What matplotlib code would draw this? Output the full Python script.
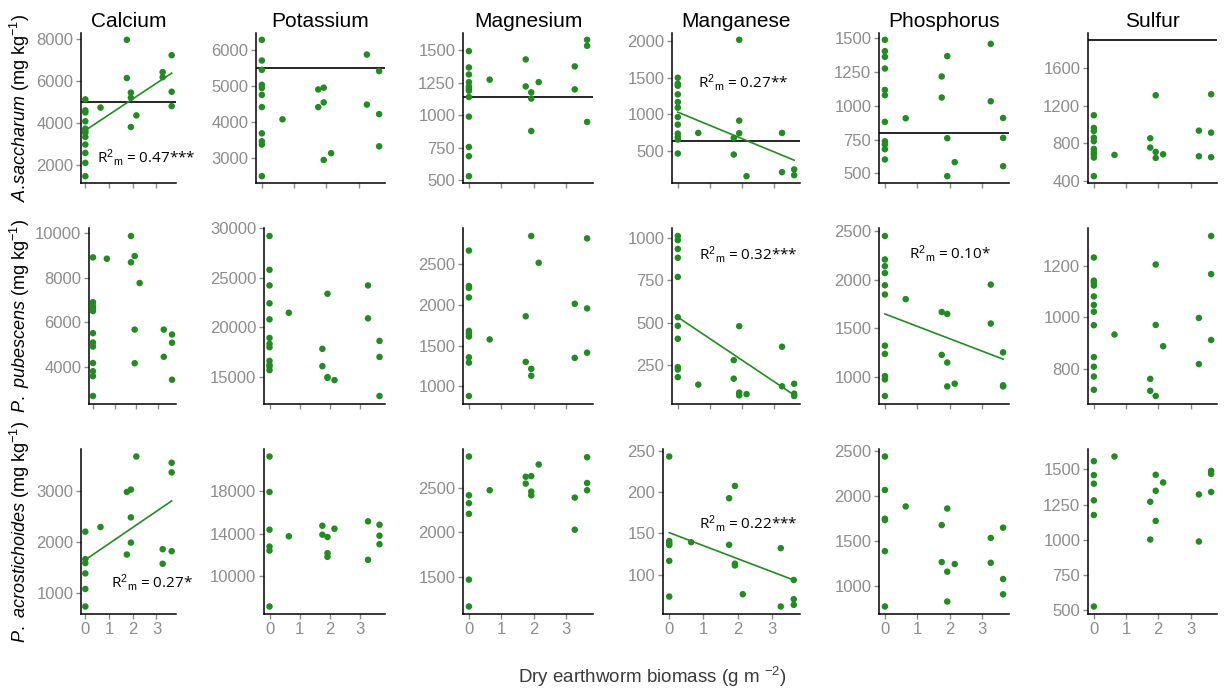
import numpy as np
import matplotlib
matplotlib.use('agg')
import matplotlib.pyplot as plt

plt.rcParams['font.family'] = ['Liberation Sans', 'DejaVu Sans']
plt.rcParams['mathtext.fontset'] = 'custom'
plt.rcParams['mathtext.rm'] = 'Liberation Sans'
plt.rcParams['mathtext.it'] = 'Liberation Sans:italic'

nutrients = ['Calcium', 'Potassium', 'Magnesium', 'Manganese', 'Phosphorus', 'Sulfur']
species_labels = [r'$\it{A.\!saccharum}$ (mg kg$^{-1}$)',
                  r'$\it{P.\ pubescens}$ (mg kg$^{-1}$)',
                  r'$\it{P.\ acrostichoides}$ (mg kg$^{-1}$)']

# Earthworm biomass levels (g m-2); each panel lists its values per level.
biomass = [0, 0.64, 1.75, 1.92, 2.15, 3.26, 3.64]

# A. saccharum
ca_acsa = [[5130, 4610, 4510, 4090, 3740, 3630, 3540, 3350, 2990, 2590, 2120, 1490],
           [4740], [7950, 6140], [5450, 5210, 3820], [4370], [6420, 6180], [7220, 5490, 4810]]
k_acsa = [[6290, 5715, 5455, 5040, 4950, 4760, 4420, 3690, 3470, 3380, 2500],
          [4080], [4910, 4420], [4960, 4550, 2950], [3140], [5880, 4490], [5420, 4225, 3330]]
mg_acsa = [[1495, 1369, 1315, 1256, 1223, 1208, 1190, 1141, 990, 756, 685, 531],
           [1275], [1431, 1223], [1177, 1129, 879], [1256], [1377, 1200], [1582, 1536, 949]]
mn_acsa = [[1503, 1421, 1393, 1275, 1170, 1093, 964, 860, 737, 691, 655, 464],
           [746], [677, 450], [2023, 915, 742], [153], [746, 208], [245, 167]]
p_acsa = [[1490, 1406, 1364, 1277, 1118, 1079, 881, 737, 713, 678, 602],
          [908], [1218, 1062], [1369, 760, 478], [582], [1460, 1034], [910, 762, 552]]
s_acsa = [[1098, 963, 931, 860, 822, 740, 708, 683, 648, 450],
          [676], [853, 754], [1310, 708, 644], [683], [934, 662], [1321, 913, 652]]

# P. pubescens
ca_popu = [[8920, 6910, 6740, 6620, 6510, 5520, 5100, 4920, 4180, 3810, 3590, 2700],
           [8860], [9880, 8700], [8980, 5680, 4170], [7770], [5680, 4460], [5460, 5090, 3430]]
k_popu = [[29200, 25800, 24230, 22430, 20820, 18950, 18350, 18020, 16640, 16240, 16080, 15710],
          [21480], [17850, 16110], [23390, 15010, 14940], [14710], [24230, 20920], [18650, 17040, 13110]]
mg_popu = [[2671, 2235, 2211, 2094, 1683, 1650, 1613, 1357, 1292, 881],
           [1577], [1862, 1301], [2850, 1215, 1130], [2520], [2016, 1350], [2821, 1959, 1414]]
mn_popu = [[1010, 986, 934, 882, 769, 532, 481, 405, 238, 224, 179],
           [135], [279, 170], [479, 88, 72], [79], [358, 125], [140, 82, 68]]
p_popu = [[2453, 2211, 2142, 2071, 1945, 1850, 1322, 1237, 1008, 974, 803],
          [1802], [1669, 1227], [1649, 1148, 902], [930], [1952, 1550], [1253, 913, 902]]
s_popu = [[1231, 1142, 1134, 1123, 1081, 1048, 1022, 970, 847, 810, 772, 721],
          [934], [763, 717], [1204, 971, 697], [889], [998, 820], [1314, 1167, 913]]

# P. acrostichoides
ca_poac = [[2200, 1665, 1588, 1387, 1085, 743],
           [2290], [2973, 1755], [3019, 2478, 1987], [3663], [1859, 1575], [3541, 3354, 1820]]
k_poac = [[21267, 17935, 14387, 12800, 12427, 7171],
          [13771], [14761, 13921], [13706, 12184, 11839], [14481], [15171, 11559], [14854, 13827, 13024]]
mg_poac = [[2860, 2421, 2331, 2211, 1466, 1162],
           [2478], [2631, 2553], [2638, 2463, 2421], [2770], [2395, 2031], [2852, 2560, 2478]]
mn_poac = [[242.8, 141, 138.3, 136, 117, 74],
           [139.5], [192.5, 136.3], [207.3, 113.6, 111.5], [76.8], [132.3, 62], [94, 70.8, 64]]
p_poac = [[2434, 2063, 1745, 1730, 1386, 773],
          [1881], [1675, 1265], [1858, 1158, 828], [1243], [1532, 1257], [1646, 1077, 908]]
s_poac = [[1559, 1460, 1399, 1281, 1177, 528],
          [1592], [1271, 1003], [1462, 1349, 1135], [1408], [1323, 989], [1490, 1469, 1340]]

# reference lines drawn in the A. saccharum row
hline_acsa = [5000, 5500, 1140, 630, 800, 1900]

# significant fits: (row, col), intercept, slope, R2m label, label position
fit_cells = [(0, 0), (0, 3), (1, 3), (1, 4), (2, 0), (2, 3)]
fit_intercept = [3660, 1031, 532, 1649, 1652, 151]
fit_slope = [745, -181, -126, -128, 315, -15.7]
fit_r2 = ['0.47***', '0.27**', '0.32***', '0.10*', '0.27*', '0.22***']
fit_lab_x = [2.57, 2.05, 2.2, 2.0, 2.8, 2.32]
fit_lab_y = [2390, 1440, 900, 2270, 1210, 162]

yticks = [[[2000, 4000, 6000, 8000], [3000, 4000, 5000, 6000], [500, 750, 1000, 1250, 1500],
           [500, 1000, 1500, 2000], [500, 750, 1000, 1250, 1500], [400, 800, 1200, 1600]],
          [[4000, 6000, 8000, 10000], [15000, 20000, 25000, 30000], [1000, 1500, 2000, 2500],
           [250, 500, 750, 1000], [1000, 1500, 2000, 2500], [800, 1000, 1200]],
          [[1000, 2000, 3000], [10000, 14000, 18000], [1500, 2000, 2500],
           [100, 150, 200, 250], [1000, 1500, 2000, 2500], [500, 750, 1000, 1250, 1500]]]

panels = [[ca_acsa, k_acsa, mg_acsa, mn_acsa, p_acsa, s_acsa],
          [ca_popu, k_popu, mg_popu, mn_popu, p_popu, s_popu],
          [ca_poac, k_poac, mg_poac, mn_poac, p_poac, s_poac]]

green = '#228B22'
grey = '#8c8c8c'

W, H = 1224, 691
fig = plt.figure(figsize=(W / 100, H / 100), dpi=100)

rows_px = [(33, 183), (228, 404), (449, 614)]
lefts_px = [[81, 256, 463, 672, 879, 1088],
            [89, 264, 463, 672, 879, 1088],
            [81, 264, 463, 663, 879, 1088]]
rights_px = [176, 385, 593, 800, 1009, 1217]

for r in range(3):
    top, bot = rows_px[r]
    for c in range(6):
        l, rt = lefts_px[r][c], rights_px[c]
        ax = fig.add_axes([l / W, 1 - bot / H, (rt - l) / W, (bot - top) / H])
        groups = panels[r][c]
        xs = np.repeat(biomass, [len(g) for g in groups])
        ys = np.concatenate([np.asarray(g, float) for g in groups])

        yall = list(ys)
        if r == 0:
            ax.axhline(hline_acsa[c], color='black', lw=1.2, zorder=2)
            yall.append(hline_acsa[c])
        if (r, c) in fit_cells:
            i = fit_cells.index((r, c))
            xf = np.array([xs.min(), xs.max()])
            yf = fit_intercept[i] + fit_slope[i] * xf
            ax.plot(xf, yf, color=green, lw=1.2, zorder=2)
            yall += list(yf)
            ax.text(fit_lab_x[i], fit_lab_y[i], r'R$^2$$_{\rm m}$ = ' + fit_r2[i],
                    ha='center', va='center', fontsize=11, family='Open Sans',
                    color='black', clip_on=False)
        ax.scatter(xs, ys, s=22, color=green, edgecolors='none', zorder=3)

        lo, hi = min(yall), max(yall)
        pad = 0.05 * (hi - lo)
        ax.set_ylim(lo - pad, hi + pad)
        xpad = 0.05 * (max(biomass) - min(biomass))
        ax.set_xlim(min(biomass) - xpad, max(biomass) + xpad)

        ax.set_xticks([0, 1, 2, 3])
        ax.set_yticks(yticks[r][c])
        if r < 2:
            ax.set_xticklabels([])
        for side in ['top', 'right']:
            ax.spines[side].set_visible(False)
        for side in ['left', 'bottom']:
            ax.spines[side].set_linewidth(1.1)
            ax.spines[side].set_color('black')
        ax.tick_params(length=3.5, width=1, color=grey, labelcolor=grey,
                       labelsize=12, pad=2)
        if r == 0:
            ax.set_title(nutrients[c], fontsize=15, pad=4)

for r in range(3):
    top, bot = rows_px[r]
    fig.text(20 / W, 1 - ((top + bot) / 2) / H, species_labels[r], rotation=90,
             ha='center', va='center', fontsize=13)

fig.text(652 / W, 1 - 677 / H, 'Dry earthworm biomass (g m $^{-2}$)',
         ha='center', va='center', fontsize=13.5, color='#3a3a3a')

fig.savefig('out.png', dpi=100)
